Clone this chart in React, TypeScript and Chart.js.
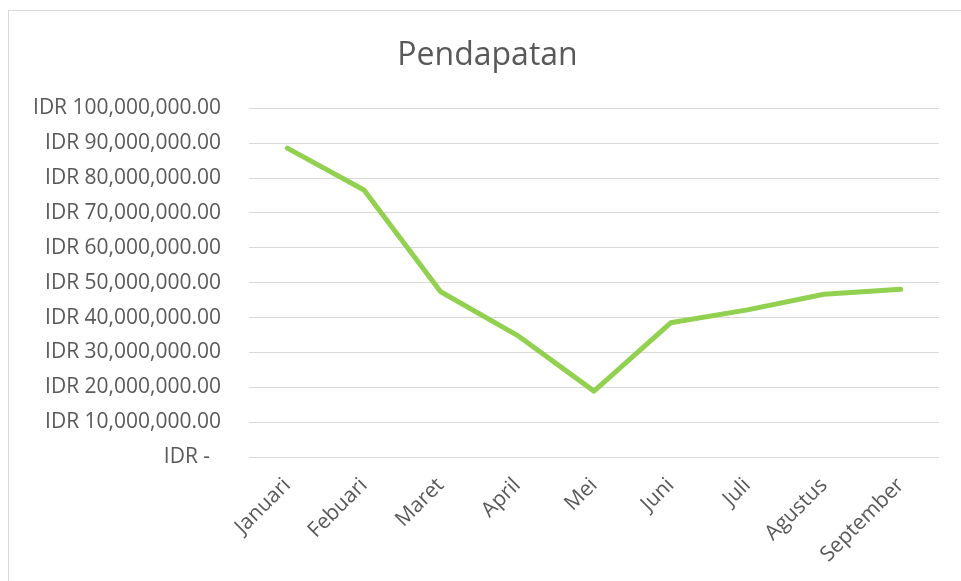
import React, { useEffect, useRef } from "react";
import { Chart, registerables } from "chart.js";

Chart.register(...registerables);

const months = ["Januari", "Febuari", "Maret", "April", "Mei", "Juni", "Juli", "Agustus", "September"];
const pendapatan = [88600000, 76600000, 47400000, 34900000, 18900000, 38500000, 42200000, 46700000, 48100000];
const chartTitle = "Pendapatan";
const yMin = 0;
const yMax = 100000000;
const yStep = 10000000;

function formatIDR(v: number): string {
  if (v === 0) return "IDR -  ";
  return "IDR " + v.toLocaleString("en-US", { minimumFractionDigits: 2, maximumFractionDigits: 2 });
}

export default function App() {
  const ref = useRef<HTMLCanvasElement | null>(null);

  useEffect(() => {
    document.documentElement.style.overflow = "hidden";
    const ctx = ref.current;
    if (!ctx) return;
    const chart = new Chart(ctx, {
      type: "line",
      data: {
        labels: months,
        datasets: [
          {
            label: chartTitle,
            data: pendapatan,
            borderColor: "#92d050",
            backgroundColor: "#92d050",
            borderWidth: 5,
            borderCapStyle: "round",
            borderJoinStyle: "round",
            pointRadius: 0,
            tension: 0,
            fill: false,
            yAxisID: "y",
          },
        ],
      },
      options: {
        animation: false,
        responsive: false,
        devicePixelRatio: 1,
        layout: { padding: 0 },
        plugins: {
          legend: { display: false },
          tooltip: { enabled: false },
          title: {
            display: true,
            text: chartTitle,
            color: "#595959",
            font: { family: "'Open Sans'", size: 32, weight: "normal" },
            padding: { top: 26, bottom: 33 },
          },
        },
        scales: {
          x: {
            offset: true,
            grid: { display: false, drawTicks: false },
            border: { display: false },
            ticks: {
              color: "#595959",
              font: { family: "'Open Sans'", size: 21 },
              minRotation: 45,
              maxRotation: 45,
              padding: 16,
              autoSkip: false,
            },
            afterFit: (scale: any) => {
              scale.height = 134;
            },
          },
          y: {
            position: "left",
            min: yMin,
            max: yMax,
            grid: { color: "#d9d9d9", lineWidth: 1, drawTicks: false },
            border: { display: false },
            ticks: {
              stepSize: yStep,
              color: "#595959",
              font: { family: "'Open Sans'", size: 21 },
              padding: 28,
              callback: (v: any) => formatIDR(Number(v)),
            },
            afterFit: (scale: any) => {
              scale.width = 240;
            },
          },
          spacer: {
            type: "linear",
            position: "right",
            min: yMin,
            max: yMax,
            grid: { display: false, drawTicks: false },
            border: { display: false },
            ticks: { display: false },
            afterFit: (scale: any) => {
              scale.width = 27;
            },
          },
        },
      },
    });
    return () => chart.destroy();
  }, []);

  return (
    <div
      style={{
        position: "fixed",
        left: 8,
        top: 10,
        width: 970,
        height: 600,
        borderLeft: "1px solid #d9d9d9",
        borderTop: "1px solid #d9d9d9",
        background: "#fff",
      }}
    >
      <canvas ref={ref} width={957} height={580} style={{ display: "block" }} />
    </div>
  );
}
